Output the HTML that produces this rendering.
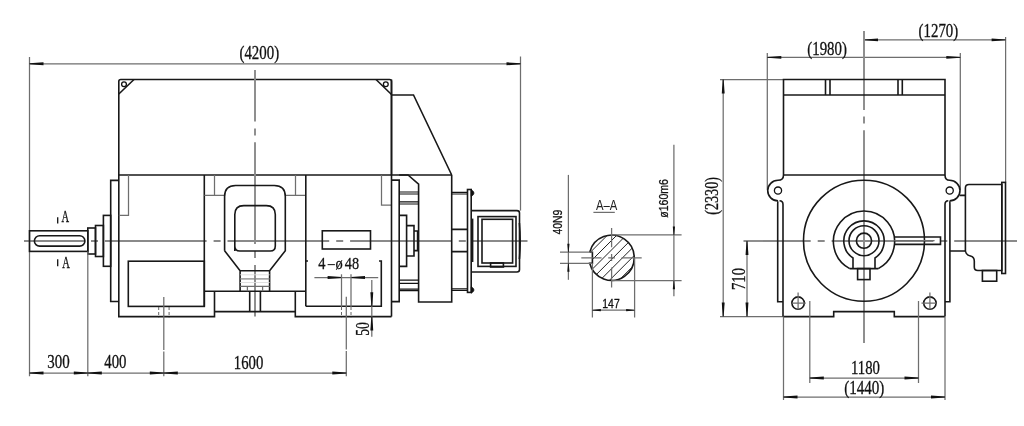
<!DOCTYPE html>
<html><head><meta charset="utf-8"><style>
html,body{margin:0;padding:0;background:#fff;}
svg{display:block;will-change:transform;}
.k{fill:none;stroke:#181818;stroke-width:1.6;}
.k2{fill:none;stroke:#111;stroke-width:1.3;}
.k3{fill:none;stroke:#111;stroke-width:1.2;}
.r5{rx:5.2px;}
.t{fill:none;stroke:#6e6e6e;stroke-width:1.25;}
.h{fill:none;stroke:#555;stroke-width:0.9;stroke-dasharray:3 2;}
.c{fill:none;stroke:#8a8a8a;stroke-width:1.9;}
.t2{fill:none;stroke:#ddd;stroke-width:0.9;}
.t3{fill:none;stroke:#888;stroke-width:1.3;}
.a{fill:#111;stroke:none;}
.f{fill:#111;stroke:#111;stroke-width:0.8;}
.hh{fill:none;stroke:#222;stroke-width:1;}
text{fill:#111;stroke:#111;stroke-width:0.3;}
text.nl{stroke:none;fill:#222;}
.dash{stroke:#222;stroke-width:1.1;}
</style></head><body>
<svg width="1024" height="426" viewBox="0 0 1024 426">
<line class="t" x1="29.5" y1="57" x2="29.5" y2="376.3"/>
<line class="t" x1="520.5" y1="56.5" x2="520.5" y2="210.6"/>
<line class="t" x1="29.5" y1="63.8" x2="520.5" y2="63.8"/>
<path class="a" d="M29.50,63.35 L43.50,62.35 L43.50,65.25 L29.50,64.25 Z"/>
<path class="a" d="M520.50,64.25 L506.50,65.25 L506.50,62.35 L520.50,63.35 Z"/>
<text x="239.5" y="58.6" font-family='"Liberation Serif", serif' font-size="18.5" textLength="39.6" lengthAdjust="spacingAndGlyphs">(4200)</text>
<path class="k" d="M118.8,175 V81.5 Q118.8,79.5 120.8,79.5 H389.5 Q391.5,79.5 391.5,81.5 V175"/>
<line class="k" x1="118.8" y1="94" x2="134" y2="79.5"/>
<line class="k" x1="376" y1="79.5" x2="391.5" y2="94.5"/>
<circle class="k2" cx="124" cy="84.3" r="2.4"/>
<circle class="k2" cx="385.8" cy="84.3" r="2.4"/>
<path class="k" d="M391.5,95 H413.5 L451.7,175"/>
<line class="k" x1="118.8" y1="175" x2="451.7" y2="175"/>
<path class="c" style="stroke-dasharray:101.7 7 7 6.9;stroke-dashoffset:50.2" d="M255,69.9 V316.6"/>
<path class="c" style="stroke-dasharray:101.7 7 7 6.9;stroke-dashoffset:41.7" d="M24,241 H527.5"/>
<path class="k" d="M118.8,175 V316.6 H214.5 V291.2 M204.3,291.2 H305.8 M214.5,311.6 H295.3 M295.3,291.2 V316.6 H391.5"/>
<line class="k" x1="204.3" y1="175" x2="204.3" y2="306.4"/>
<rect class="k" x="128.3" y="261.2" width="76.0" height="45.2"/>
<path class="t" d="M128.5,175 V215.4 H118.8"/>
<path class="t" d="M214.5,175 V195.3 M204.3,195.3 H224.6"/>
<path class="t" d="M295.5,175 V195.3 M285.3,195.3 H305.8"/>
<rect class="k" x="29.5" y="230.8" width="58.3" height="20.6"/>
<rect class="k r5" x="34.4" y="235.7" width="50.5" height="10.4"/>
<rect class="k" x="87.8" y="228" width="7.7" height="26"/>
<rect class="k" x="95.5" y="225.5" width="7.9" height="31.0"/>
<rect class="k" x="103.4" y="215.4" width="7.3" height="50.9"/>
<path class="k" d="M118.5,180.4 H110.7 V301.5 H118.8"/>
<line class="k2" x1="57.7" y1="217.3" x2="57.7" y2="223.4"/>
<line class="k2" x1="57.7" y1="259.3" x2="57.7" y2="266.2"/>
<text x="61.5" y="222.4" font-family='"Liberation Serif", serif' font-size="16.5" textLength="7.6" lengthAdjust="spacingAndGlyphs">A</text>
<text x="62.3" y="267.8" font-family='"Liberation Serif", serif' font-size="16.5" textLength="7.6" lengthAdjust="spacingAndGlyphs">A</text>
<path class="k" d="M224.6,250.7 V196.5 Q224.6,185.5 235.6,185.5 H274.3 Q285.3,185.5 285.3,196.5 V250.7 L269.6,270.8 V291.2 M224.6,250.7 L240.1,270.8 V291.2 M240.1,270.8 H269.6"/>
<path class="k" d="M234.8,251 V214.6 Q234.8,205.6 243.8,205.6 H266.3 Q275.3,205.6 275.3,214.6 V246 Q275.3,251 270.3,251 H239.8 Q234.8,251 234.8,246 Z"/>
<path class="t2" d="M240.1,274.8 H269.6 M240.1,282.5 H269.6"/>
<path class="t3" d="M240.1,278.9 H269.6"/>
<path class="t" d="M240.1,286.4 H269.6 M247.4,286.4 V291.2 M262.6,286.4 V291.2"/>
<path class="k" d="M249.7,291.2 V311.6 M260.4,291.2 V311.6"/>
<path class="t" d="M163.8,297 V350 M163.8,351.6 V376.3"/>
<path class="h" d="M158.7,307 V317.5 M169.1,307 V317.5"/>
<line class="k" x1="305.8" y1="175" x2="305.8" y2="306.2"/>
<path class="k" d="M305.8,306.2 H381.3 V261 H379 M305.8,261 H308"/>
<path class="t" d="M381.5,175 V205.2 H391.5"/>
<line class="k" x1="391.5" y1="79.5" x2="391.5" y2="316.6"/>
<rect class="k" x="322.3" y="230.8" width="48.2" height="18.2"/>
<text x="318.2" y="268.8" font-family='"Liberation Serif", serif' font-size="16" textLength="7.2" lengthAdjust="spacingAndGlyphs">4</text>
<line class="dash" x1="327.6" y1="264.6" x2="334.9" y2="264.6"/>
<text x="335.6" y="268.8" font-family='"Liberation Serif", serif' font-size="16" textLength="7.2" lengthAdjust="spacingAndGlyphs">&#248;</text>
<text x="344.8" y="268.8" font-family='"Liberation Serif", serif' font-size="16" textLength="14.2" lengthAdjust="spacingAndGlyphs">48</text>
<line class="t" x1="314.4" y1="277.5" x2="378.2" y2="277.5"/>
<path class="a" d="M341.60,277.95 L327.60,278.95 L327.60,276.05 L341.60,277.05 Z"/>
<path class="a" d="M351.00,277.05 L365.00,276.05 L365.00,278.95 L351.00,277.95 Z"/>
<line class="t" x1="341.5" y1="274.3" x2="341.5" y2="307"/>
<line class="t" x1="351" y1="274.3" x2="351" y2="307"/>
<path class="h" d="M341.5,307 V317.5 M351,307 V317.5"/>
<path class="t" d="M346.3,296.7 V349.4 M346.3,350.9 V376.3"/>
<line class="t" x1="371.8" y1="279.9" x2="371.8" y2="336.8"/>
<path class="a" d="M371.35,306.20 L370.35,292.20 L373.25,292.20 L372.25,306.20 Z"/>
<path class="a" d="M372.25,316.60 L373.25,330.60 L370.35,330.60 L371.35,316.60 Z"/>
<text x="369.4" y="335.8" font-family='"Liberation Serif", serif' font-size="18.5" textLength="13.6" lengthAdjust="spacingAndGlyphs" transform="rotate(-90 369.4 335.8)">50</text>
<path class="k" d="M391.5,180.1 H399.2 V301.6 H391.5"/>
<path class="k" d="M399.2,175 H408 L418.6,184.1 V302 H451.7 V175"/>
<path class="k3" d="M399.2,192 H418.6 M399.2,194 H418.6 M399.2,201.8 H418.6 M399.2,204 H418.6"/>
<path class="k" d="M399.2,215.4 H406.6 V266.4 H399.2 M406.6,225.6 H414 V256 H406.6 M414,231 H417.6 V250.6 H414"/>
<path class="k2" d="M399.2,280.2 H418.6 M399.2,283.3 H418.6"/>
<path class="k3" d="M399.2,289.2 H418.6 M399.2,290.6 H418.6"/>
<path class="k" d="M451.7,229.4 H467.5 M451.7,251.6 H467.5"/>
<path class="k3" d="M451.7,192.3 H467.5 M451.7,194 H467.5 M451.7,288.8 H467.5 M451.7,290.5 H467.5"/>
<rect class="k" x="467.5" y="189.5" width="3.7" height="102.9"/>
<path class="f" d="M471.2,189.8 Q476.8,193 471.2,196.4 Z M471.2,286.8 Q476.8,290 471.2,293.2 Z"/>
<path class="k" d="M471.2,210.6 H517 Q519.5,210.6 519.5,213 V269.5 Q519.5,272 517,272 H471.2"/>
<rect class="k" x="478" y="216.6" width="38" height="49.8"/>
<rect class="k" x="482" y="219.3" width="30.6" height="43.7"/>
<rect class="k" x="490.6" y="263" width="12.8" height="4"/>
<line class="k" x1="472.6" y1="218.6" x2="472.6" y2="262"/>
<path class="k" d="M519.4,223 Q521,241 519.4,259"/>
<line class="t" x1="29.5" y1="373" x2="346.5" y2="373"/>
<line class="t" x1="87.8" y1="251.4" x2="87.8" y2="376.3"/>
<path class="a" d="M29.50,372.55 L43.50,371.55 L43.50,374.45 L29.50,373.45 Z"/>
<path class="a" d="M87.80,373.45 L73.80,374.45 L73.80,371.55 L87.80,372.55 Z"/>
<path class="a" d="M87.80,372.55 L101.80,371.55 L101.80,374.45 L87.80,373.45 Z"/>
<path class="a" d="M163.80,373.45 L149.80,374.45 L149.80,371.55 L163.80,372.55 Z"/>
<path class="a" d="M163.80,372.55 L177.80,371.55 L177.80,374.45 L163.80,373.45 Z"/>
<path class="a" d="M346.30,373.45 L332.30,374.45 L332.30,371.55 L346.30,372.55 Z"/>
<text x="47.3" y="368.2" font-family='"Liberation Serif", serif' font-size="18.5" textLength="22.4" lengthAdjust="spacingAndGlyphs">300</text>
<text x="104.3" y="368.2" font-family='"Liberation Serif", serif' font-size="18.5" textLength="22.2" lengthAdjust="spacingAndGlyphs">400</text>
<text x="233.8" y="369.2" font-family='"Liberation Serif", serif' font-size="18.5" textLength="29.5" lengthAdjust="spacingAndGlyphs">1600</text>
<path class="k" d="M589.7,252.2 H592.4 V263.3 H589.7 A22.6,22.6 0 1 0 589.7,252.2"/>
<clipPath id="cp"><path d="M589.7,252.2 H592.4 V263.3 H589.7 A22.6,22.6 0 1 0 589.7,252.2 Z"/></clipPath>
<g clip-path="url(#cp)"><path class="hh" d="M542.6,300 L642.6,200 M552.03,300 L652.03,200 M561.46,300 L661.46,200 M570.89,300 L670.89,200 M580.32,300 L680.32,200 M589.75,300 L689.75,200 M599.1800000000001,300 L699.1800000000001,200"/></g>
<path class="t" d="M611.6,227.9 V247.3 M611.6,254 V261 M611.6,267.6 V287.5"/>
<path class="t" d="M581.3,257.9 H601.6 M608.2,257.9 H615 M621.5,257.9 H641.7"/>
<path class="t" d="M560,252.2 H592.4 M560,263.3 H592.4"/>
<line class="t" x1="568.4" y1="174.9" x2="568.4" y2="279.8"/>
<path class="a" d="M568.10,252.20 L567.30,243.70 L569.50,243.70 L568.70,252.20 Z"/>
<path class="a" d="M568.70,263.30 L569.50,271.80 L567.30,271.80 L568.10,263.30 Z"/>
<text x="562.4" y="234.6" font-family='"Liberation Sans", sans-serif' font-size="13.5" textLength="25" lengthAdjust="spacingAndGlyphs" transform="rotate(-90 562.4 234.6)">40N9</text>
<text class="nl" x="595.9" y="210.3" font-family='"Liberation Sans", sans-serif' font-size="14" textLength="21.4" lengthAdjust="spacingAndGlyphs">A&#8211;A</text>
<line class="t" x1="593.4" y1="212.4" x2="614.8" y2="212.4"/>
<path class="t" d="M612,234.9 H681.6 M612,280.7 H681.6"/>
<line class="t" x1="673.9" y1="144.8" x2="673.9" y2="296.3"/>
<path class="a" d="M673.60,234.90 L672.80,226.40 L675.00,226.40 L674.20,234.90 Z"/>
<path class="a" d="M674.20,280.70 L675.00,289.20 L672.80,289.20 L673.60,280.70 Z"/>
<text x="667.9" y="217.8" font-family='"Liberation Sans", sans-serif' font-size="13.5" textLength="38.8" lengthAdjust="spacingAndGlyphs" transform="rotate(-90 667.9 217.8)">&#248;160m6</text>
<path class="t" d="M592.4,263.3 V317.5 M634.6,258 V317.5"/>
<line class="t" x1="592.4" y1="310.2" x2="634.6" y2="310.2"/>
<path class="a" d="M592.40,309.90 L600.90,309.10 L600.90,311.30 L592.40,310.50 Z"/>
<path class="a" d="M634.60,310.50 L626.10,311.30 L626.10,309.10 L634.60,309.90 Z"/>
<text x="602.3" y="307.8" font-family='"Liberation Sans", sans-serif' font-size="13" textLength="17.4" lengthAdjust="spacingAndGlyphs">147</text>
<path class="t" d="M720,79.5 H783.5 M720,316.6 H783"/>
<line class="t" x1="723.2" y1="79.5" x2="723.2" y2="316.6"/>
<path class="a" d="M723.65,79.50 L724.65,93.50 L721.75,93.50 L722.75,79.50 Z"/>
<path class="a" d="M722.75,316.60 L721.75,302.60 L724.65,302.60 L723.65,316.60 Z"/>
<text x="718.5" y="214.8" font-family='"Liberation Serif", serif' font-size="18.5" textLength="37.8" lengthAdjust="spacingAndGlyphs" transform="rotate(-90 718.5 214.8)">(2330)</text>
<path class="c" style="stroke-dasharray:101.7 7 7 6.9;stroke-dashoffset:34.5" d="M743.5,241 H1017"/>
<line class="t" x1="747" y1="241" x2="747" y2="316.6"/>
<path class="a" d="M747.45,241.00 L748.45,255.00 L745.55,255.00 L746.55,241.00 Z"/>
<path class="a" d="M746.55,316.60 L745.55,302.60 L748.45,302.60 L747.45,316.60 Z"/>
<text x="745" y="290" font-family='"Liberation Serif", serif' font-size="18.5" textLength="22" lengthAdjust="spacingAndGlyphs" transform="rotate(-90 745 290)">710</text>
<line class="t" x1="767.3" y1="53" x2="767.3" y2="190"/>
<line class="t" x1="960.3" y1="53" x2="960.3" y2="190"/>
<line class="t" x1="767.3" y1="57.4" x2="960.3" y2="57.4"/>
<path class="a" d="M767.30,56.95 L781.30,55.95 L781.30,58.85 L767.30,57.85 Z"/>
<path class="a" d="M960.30,57.85 L946.30,58.85 L946.30,55.95 L960.30,56.95 Z"/>
<text x="807.3" y="54.9" font-family='"Liberation Serif", serif' font-size="18.5" textLength="39.6" lengthAdjust="spacingAndGlyphs">(1980)</text>
<line class="t" x1="1005.6" y1="37" x2="1005.6" y2="182.4"/>
<line class="t" x1="864" y1="39.9" x2="1005.6" y2="39.9"/>
<path class="a" d="M864.00,39.45 L878.00,38.45 L878.00,41.35 L864.00,40.35 Z"/>
<path class="a" d="M1005.60,40.35 L991.60,41.35 L991.60,38.45 L1005.60,39.45 Z"/>
<text x="918.6" y="36.9" font-family='"Liberation Serif", serif' font-size="18.5" textLength="39.6" lengthAdjust="spacingAndGlyphs">(1270)</text>
<path class="c" d="M864,31 V110.1 M864,116.6 V123.6 M864,130.2 V343"/>
<path class="k" d="M783.5,175 V79.5 H945 V175"/>
<line class="k" x1="783.5" y1="95" x2="945" y2="95"/>
<path class="k" d="M825.5,79.5 V95 M830,79.5 V95 M898,79.5 V95 M902.3,79.5 V95"/>
<line class="k" x1="783.5" y1="175" x2="945" y2="175"/>
<path class="k" d="M783.5,175 Q783.5,180.3 778,180.3 A10.3,10.3 0 0 0 778,200.9 Q777.7,201 777.7,205 V301.7 H783"/>
<path class="k" d="M945,175 Q945,180.3 949.7,180.3 A10.3,10.3 0 0 1 949.7,200.9 Q949.9,201 949.9,205 V301.7 H945"/>
<circle class="k2" cx="778" cy="190.6" r="3.6"/>
<circle class="k2" cx="949.7" cy="190.6" r="3.6"/>
<path class="k" d="M783,316.6 V204.5 Q783,201 779.5,200.8"/>
<path class="k" d="M945,316.6 V204.5 Q945,201 948.3,200.8"/>
<path class="k" d="M783,316.6 H833.7 V311.6 H894.3 V316.6 H945"/>
<circle class="k" cx="864" cy="240.7" r="60.5"/>
<path class="k" d="M849.7,268.6 A30.6,30.6 0 1 1 878.3,268.6"/>
<path class="k" d="M853,268.6 V258 A20.2,20.2 0 1 1 875,258 V268.6 M849.7,268.6 H878.3"/>
<circle class="k" cx="864" cy="240.7" r="15"/>
<circle class="k" cx="864" cy="240.7" r="7.6"/>
<rect class="k" x="857.6" y="268.6" width="12.4" height="11.0"/>
<path class="k" d="M894.3,237 H940.5 V244.4 H894.3"/>
<line class="t" x1="894.3" y1="240.7" x2="934.6" y2="240.7"/>
<circle class="k" cx="798.1" cy="303.1" r="6.2"/>
<circle class="k" cx="929.9" cy="303.1" r="6.2"/>
<path class="t" d="M792.3,303.1 H805.8 M798.1,292.4 V309.6 M921.5,303.1 H936.1 M929.9,292.4 V309.6"/>
<path class="k" d="M959.6,195.4 H965.4 M949.9,251 H965.4"/>
<path class="k" d="M965.4,251 V188 Q965.4,184.5 969,184.5 H1001.8 V270.5 H977.8 Q974.3,270.5 974.3,267 V261 Q974.3,257 970.5,256 Q966,255 965.4,251"/>
<rect class="k" x="982.4" y="270.5" width="14.3" height="10.7"/>
<rect class="k" x="1001.8" y="182.4" width="3.7" height="91.1"/>
<path class="t" d="M809.8,301 V383 M918.5,301 V383"/>
<line class="t" x1="809.8" y1="378" x2="918.5" y2="378"/>
<path class="a" d="M809.80,377.55 L823.80,376.55 L823.80,379.45 L809.80,378.45 Z"/>
<path class="a" d="M918.50,378.45 L904.50,379.45 L904.50,376.55 L918.50,377.55 Z"/>
<text x="851" y="374.4" font-family='"Liberation Serif", serif' font-size="18.5" textLength="29" lengthAdjust="spacingAndGlyphs">1180</text>
<path class="t" d="M783.5,316.6 V400 M945,316.6 V400"/>
<line class="t" x1="783.5" y1="397" x2="945" y2="397"/>
<path class="a" d="M783.50,396.55 L797.50,395.55 L797.50,398.45 L783.50,397.45 Z"/>
<path class="a" d="M945.00,397.45 L931.00,398.45 L931.00,395.55 L945.00,396.55 Z"/>
<text x="844.2" y="393.6" font-family='"Liberation Serif", serif' font-size="18.5" textLength="40.2" lengthAdjust="spacingAndGlyphs">(1440)</text>
</svg>
</body></html>
